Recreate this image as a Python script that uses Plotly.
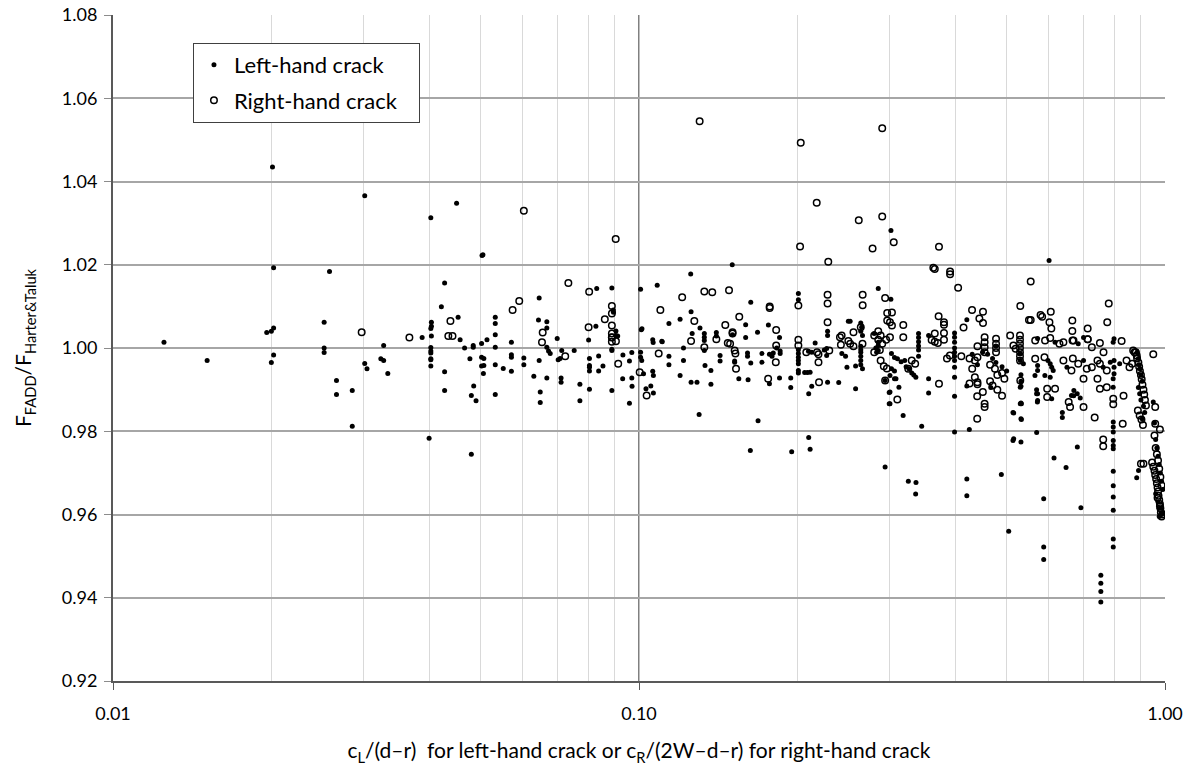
import plotly.graph_objects as go

# ---------------- data: left-hand crack (filled markers) ----------------
left_x = [
    0.0125, 0.0151,
    0.0201, 0.0202, 0.0196, 0.0200, 0.0202, 0.0202, 0.0200,
    0.0258, 0.0252, 0.0252, 0.0252,
    0.0266, 0.0266, 0.0285, 0.0285,
    0.0301, 0.0301, 0.0304,
    0.0327, 0.0323, 0.0327, 0.0333,
    0.0387,
    0.0402, 0.0403, 0.0403, 0.0402, 0.0403, 0.0402, 0.0402, 0.0402, 0.0402, 0.0402, 0.0402, 0.0399,
    0.0421, 0.0427, 0.0427, 0.0427,
    0.0450, 0.0453, 0.0457,
    0.0466, 0.0484, 0.0484, 0.0502, 0.0514,
    0.0503, 0.0505,
    0.0477, 0.0502, 0.0502, 0.0506, 0.0485, 0.0480, 0.0490, 0.0480,
    0.0533, 0.0533, 0.0533, 0.0533, 0.0533, 0.0533,
    0.0507, 0.0507,
    0.0552, 0.0572, 0.0572, 0.0572, 0.0572,
    0.0604, 0.0604, 0.0631,
    0.0646, 0.0646, 0.0644, 0.0668, 0.0668, 0.0668, 0.0673, 0.0678, 0.0649, 0.0649, 0.0668,
    0.0699, 0.0713, 0.0708, 0.0702, 0.0753, 0.0711, 0.0711, 0.0772, 0.0772,
    0.0831, 0.0888, 0.0828, 0.0802,
    0.0805, 0.0805, 0.0805, 0.0805, 0.0805, 0.0838, 0.0854, 0.0838,
    0.0888, 0.0888, 0.0888,
    0.0894, 0.0894, 0.0904, 0.0911, 0.0904,
    0.0932, 0.0959, 0.0969,
    0.0931, 0.0969, 0.0970, 0.0959,
    0.1007, 0.1083, 0.1007, 0.1007, 0.1012, 0.1010, 0.1013,
    0.1020, 0.1062, 0.1065, 0.1053, 0.1031, 0.1065,
    0.1062, 0.1105, 0.1064, 0.1107,
    0.1140, 0.1197, 0.1140, 0.1140, 0.1197, 0.1215, 0.1215,
    0.1254, 0.1504, 0.1256, 0.1631,
    0.1306, 0.1262,
    0.1331, 0.1331, 0.1331, 0.1331, 0.1335,
    0.1403, 0.1403, 0.1506,
    0.1595, 0.1595, 0.1680, 0.1762, 0.1850, 0.2162, 0.2283, 0.2283,
    0.2009, 0.2009,
    0.1256, 0.1289, 0.1301,
    0.1370, 0.1370, 0.1426, 0.1426,
    0.1520, 0.1520, 0.1548,
    0.1608, 0.1608, 0.1612, 0.1631, 0.1628, 0.1684,
    0.1713, 0.1713, 0.1770, 0.1770, 0.1790, 0.1800,
    0.1855, 0.1855, 0.1850, 0.1827,
    0.1943, 0.1943, 0.1951,
    0.2009, 0.2009, 0.2009, 0.2009, 0.2009, 0.2009, 0.2009,
    0.2102, 0.2102, 0.2115,
    0.2065, 0.2090, 0.2115, 0.2130,
    0.2100, 0.2130,
    0.2274, 0.2274, 0.2283, 0.2250,
    0.2397, 0.2485, 0.2581, 0.2581,
    0.2500, 0.2520,
    0.2430, 0.2470,
    0.2640, 0.2650, 0.2640, 0.2660,
    0.2640, 0.2640, 0.2640, 0.2640, 0.2640, 0.2640, 0.2660,
    0.2850, 0.2850, 0.2850, 0.2850,
    0.3013, 0.3012,
    0.2800, 0.2820, 0.2830,
    0.302, 0.306, 0.310, 0.315, 0.320,
    0.302, 0.306, 0.300, 0.306, 0.308, 0.312, 0.300, 0.300,
    0.3178, 0.3447,
    0.322, 0.326, 0.330, 0.333, 0.336,
    0.340, 0.340, 0.340, 0.340, 0.340, 0.340,
    0.3553, 0.3553, 0.3553,
    0.2937, 0.2990, 0.2990, 0.2937,
    0.3251, 0.3362, 0.3357,
    0.398, 0.398, 0.398, 0.398, 0.398, 0.398, 0.398, 0.398, 0.398, 0.398, 0.398,
    0.420, 0.420, 0.420, 0.4246, 0.420,
    0.4664, 0.4885, 0.5045,
    0.514, 0.514, 0.5323, 0.5323, 0.5323, 0.5333, 0.5156, 0.5333, 0.5156,
    0.5323, 0.5323, 0.5323,
    0.570, 0.570, 0.572, 0.5702,
    0.588, 0.588, 0.588,
    0.602, 0.6152, 0.638, 0.638, 0.6485, 0.6705, 0.6813, 0.692,
    0.7551, 0.7551, 0.7551, 0.7551,
    0.7973, 0.7973, 0.7973, 0.7973, 0.7973, 0.7973, 0.7973, 0.7973, 0.7973, 0.7973, 0.7973, 0.7973,
    0.800, 0.797,
    0.8835, 0.8907,
    0.5725, 0.618, 0.684, 0.700,
    0.5307, 0.5307, 0.538, 0.5725, 0.5725, 0.599, 0.605, 0.609, 0.613, 0.651, 0.700, 0.763, 0.787,
    0.800, 0.800, 0.800, 0.820,
    0.5307, 0.5307, 0.566, 0.5725, 0.5725, 0.591, 0.605, 0.609, 0.664, 0.671, 0.681, 0.690, 0.797, 0.797,
    0.450, 0.460, 0.470, 0.477, 0.477, 0.490, 0.500, 0.440, 0.430,
    0.885, 0.890, 0.893, 0.897, 0.900, 0.905, 0.890, 0.895, 0.900, 0.910, 0.915, 0.905,
    0.950, 0.955, 0.960, 0.965, 0.970, 0.975, 0.980, 0.985, 0.990, 0.960, 0.970, 0.980, 0.990, 0.975, 0.985,
]
left_y = [
    1.0014, 0.9970,
    1.0435, 1.0193, 1.0037, 1.0040, 1.0048, 0.9983, 0.9965,
    1.0184, 1.0062, 1.0000, 0.9989,
    0.9922, 0.9888, 0.9898, 0.9812,
    1.0366, 0.9963, 0.9950,
    1.0006, 0.9974, 0.9970, 0.9939,
    1.0025,
    1.0313, 1.0062, 1.0052, 1.0047, 1.0029, 1.0001, 0.9993, 0.9988, 0.9972, 0.9974, 0.9957, 0.9783,
    1.0099, 1.0156, 0.9943, 0.9898,
    1.0348, 1.0074, 1.0020,
    1.0000, 1.0002, 1.0006, 1.0011, 1.0020,
    1.0222, 1.0224,
    0.9974, 0.9978, 0.9957, 0.9939, 0.9909, 0.9886, 0.9873, 0.9745,
    1.0032, 1.0059, 1.0074, 1.0002, 0.9960, 0.9888,
    0.9975, 0.9958,
    0.9951, 1.0014, 0.9984, 0.9978, 0.9944,
    0.9976, 0.9960, 0.9932,
    1.0120, 0.9970, 1.0067, 1.0063, 1.0048, 1.0002, 0.9993, 0.9987, 0.9894, 0.9869, 0.9928,
    1.0023, 0.9994, 0.9975, 0.9972, 0.9994, 0.9928, 0.9918, 0.9913, 0.9873,
    1.0143, 1.0144, 1.0052, 1.0019,
    0.9975, 0.9958, 0.9954, 0.9945, 0.9901, 0.9981, 0.9957, 0.9945,
    0.9997, 0.9994, 0.9898,
    1.0091, 1.0086, 1.0041, 1.0029, 1.0030,
    0.9983, 0.9969, 0.9989,
    0.9926, 0.9928, 0.9908, 0.9867,
    1.0141, 1.0151, 0.9990, 0.9978, 0.9970, 1.0044, 1.0046,
    0.9938, 0.9944, 0.9934, 0.9909, 0.9902, 0.9892,
    1.0020, 1.0016, 1.0013, 1.0015,
    1.0059, 1.0069, 0.9980, 0.9960, 0.9934, 1.0000, 0.9970,
    1.0178, 1.0200, 1.0087, 1.0110,
    1.0048, 1.0035,
    1.0035, 1.0026, 1.0018, 0.9994, 0.9958,
    1.0037, 1.0029, 1.0032,
    1.0056, 1.0025, 1.0038, 1.0055, 1.0025, 1.0012, 1.0040, 1.0030,
    1.0131, 1.0116,
    0.9918, 0.9918, 0.9840,
    0.9946, 0.9913, 0.9982, 0.9969,
    0.9969, 0.9966, 0.9926,
    0.9988, 0.9980, 0.9924, 0.9964, 0.9754, 0.9825,
    0.9987, 0.9966, 0.9914, 0.9985, 0.9980, 0.9988,
    0.9993, 0.9987, 0.9928, 1.0000,
    0.9928, 0.9905, 0.9751,
    0.9996, 0.9987, 0.9978, 0.9970, 0.9946, 0.9940, 0.9962,
    0.9890, 0.9785, 0.9757,
    0.9941, 0.9941, 0.9942, 0.9908,
    0.9992, 0.9990,
    0.9999, 0.9982, 0.9918, 0.9995,
    0.9917, 0.9954, 0.9957, 0.9902,
    1.0064, 1.0064,
    0.9987, 0.9980,
    1.0060, 1.0050, 1.0040, 1.0030,
    1.0004, 0.9996, 0.9990, 0.9980, 0.9970, 0.9960, 0.9950,
    1.0143, 1.0014, 1.0006, 0.9994,
    1.0282, 1.0117,
    1.0035, 1.0000, 0.9990,
    0.9987, 0.9977, 0.9974, 0.9967, 0.9970,
    0.9950, 0.9945, 0.9934, 0.9926, 0.9926, 0.9906, 0.9894, 0.9866,
    0.9838, 0.9812,
    0.9955, 0.9950, 0.9940, 0.9935, 0.9930,
    1.0035, 1.0025, 1.0015, 1.0005, 0.9995, 0.9980,
    1.0030, 0.9926, 0.9892,
    0.9922, 0.9893, 0.9866, 0.9714,
    0.9680, 0.9677, 0.9649,
    1.0036, 1.0026, 1.0014, 1.0000, 0.9990, 0.9980, 0.9970, 0.9954, 0.9930, 0.9884, 0.9798,
    1.0068, 0.9685, 0.9645, 0.9804, 0.9909,
    0.9905, 0.9696, 0.9560,
    0.9845, 0.9778, 0.9774, 0.9830, 0.9868, 0.9866, 0.9844, 0.9828, 0.9782,
    0.9908, 0.9920, 0.9936,
    0.9900, 0.9890, 0.9870, 0.9797,
    0.9638, 0.9522, 0.9492,
    1.0210, 0.9736, 0.9845, 0.9833, 0.9713, 0.9885, 0.9762, 0.9616,
    0.9454, 0.9435, 0.9415, 0.9390,
    0.9822, 0.9810, 0.9798, 0.9778, 0.9766, 0.9758, 0.9704, 0.9669, 0.9642, 0.9610, 0.9541, 0.9522,
    1.0022, 1.0014,
    0.9688, 0.9706,
    1.0023, 1.0014, 1.0010, 1.0025,
    0.9987, 0.9970, 0.9962, 0.9958, 0.9946, 0.9970, 0.9962, 0.9954, 0.9946, 0.9954, 0.9970, 0.9954, 0.9966,
    0.9970, 0.9954, 0.9938, 0.9962,
    0.9906, 0.9866, 0.9934, 0.9890, 0.9874, 0.9934, 0.9930, 0.9878, 0.9886, 0.9898, 0.9890, 0.9880, 0.9926, 0.9906,
    0.9990, 0.9985, 0.9975, 1.0005, 0.9965, 0.9955, 0.9945, 0.9960, 0.9985,
    0.9990, 0.9975, 0.9960, 0.9950, 0.9935, 0.9920, 0.9905, 0.9890, 0.9875, 0.9860, 0.9845, 0.9830,
    0.9870, 0.9820, 0.9780, 0.9760, 0.9740, 0.9720, 0.9700, 0.9680, 0.9660, 0.9650, 0.9630, 0.9615, 0.9605, 0.9595, 0.9600,
]

# ---------------- data: right-hand crack (open markers) ----------------
right_x = [
    0.0297, 0.0366, 0.0438, 0.0434, 0.0442,
    0.0604, 0.0592, 0.0575, 0.0656, 0.0654, 0.0724,
    0.0734, 0.0804, 0.0903, 0.0861, 0.0802,
    0.0888, 0.0888, 0.0888, 0.0888, 0.0904, 0.0888, 0.0888, 0.0888,
    0.0913, 0.1003, 0.1034, 0.1090, 0.1098, 0.1208,
    0.1304, 0.2030, 0.2177, 0.2024, 0.2290,
    0.1331, 0.1378, 0.1483, 0.1772, 0.1772, 0.2009, 0.2283, 0.2283, 0.2283,
    0.1551, 0.1459, 0.1274, 0.1256, 0.1331, 0.1403, 0.1506, 0.1506, 0.1823, 0.2009, 0.1475, 0.1490,
    0.1520, 0.1525, 0.1529, 0.1760, 0.1820, 0.1823,
    0.2009, 0.2194, 0.2194, 0.2199, 0.2080, 0.2300, 0.2180,
    0.2617, 0.2900, 0.2900, 0.3050, 0.2780,
    0.2662, 0.2662,
    0.2557, 0.2428, 0.2410, 0.2420, 0.2500, 0.2520, 0.2557, 0.2640, 0.2660,
    0.2800, 0.2800,
    0.2937, 0.2964, 0.2964, 0.3026, 0.3026, 0.3000,
    0.2850, 0.2880, 0.2850, 0.2900, 0.2950, 0.3000, 0.2870,
    0.2880, 0.2920, 0.2960, 0.2937, 0.3098,
    0.3180, 0.3180,
    0.3300, 0.3350, 0.3250,
    0.3627, 0.3650, 0.3718, 0.3903, 0.3903, 0.4043,
    0.3712, 0.3800, 0.3800, 0.3650, 0.3800, 0.3600, 0.3650, 0.3700, 0.3800,
    0.3900, 0.3850, 0.3718,
    0.4140, 0.4297, 0.4508, 0.4437, 0.4508,
    0.4100, 0.4250, 0.4350, 0.4400,
    0.4300, 0.4350, 0.4250,
    0.4400, 0.4400, 0.4395, 0.4505, 0.4540, 0.4540, 0.4395,
    0.4400, 0.454, 0.454, 0.454, 0.454,
    0.4773, 0.4773, 0.4773, 0.4773,
    0.4650, 0.4750, 0.4800, 0.4900, 0.4950, 0.4650, 0.4700, 0.4800, 0.4900,
    0.5077, 0.5150, 0.5200, 0.5307,
    0.530, 0.530, 0.530, 0.530, 0.530, 0.530, 0.530,
    0.5555, 0.5513, 0.5555,
    0.5800, 0.5840, 0.6065, 0.6030, 0.6080,
    0.6665, 0.6665, 0.7128, 0.6700, 0.7128, 0.7520, 0.8270,
    0.7817, 0.7766,
    0.950, 0.8835, 0.870, 0.875,
    0.735, 0.763, 0.763,
    0.7973, 0.7973, 0.831, 0.834,
    0.900, 0.910,
    0.958, 0.958, 0.978,
    0.5665, 0.5915, 0.605, 0.630, 0.641, 0.667, 0.713, 0.726, 0.764,
    0.5665, 0.590, 0.641, 0.664, 0.668, 0.684, 0.710, 0.726, 0.744, 0.752, 0.775, 0.845, 0.856, 0.866,
    0.5307, 0.5970, 0.5970, 0.618, 0.656, 0.660, 0.700, 0.700, 0.744, 0.752, 0.775,
    0.880, 0.885, 0.890, 0.893, 0.896, 0.900, 0.903, 0.906, 0.910, 0.913, 0.916, 0.920, 0.888, 0.895, 0.902, 0.908,
    0.945, 0.950, 0.955, 0.958, 0.962, 0.965, 0.968, 0.970, 0.972, 0.975, 0.978, 0.980, 0.982, 0.985,
    0.960, 0.965, 0.970, 0.975, 0.980, 0.985, 0.968, 0.978, 0.988, 0.955,
]
right_y = [
    1.0038, 1.0025, 1.0065, 1.0029, 1.0029,
    1.0330, 1.0113, 1.0091, 1.0037, 1.0014, 0.9980,
    1.0156, 1.0135, 1.0262, 1.0069, 1.0050,
    1.0101, 1.0083, 1.0054, 1.0026, 1.0016, 1.0035, 1.0025, 1.0015,
    0.9962, 0.9942, 0.9886, 0.9987, 1.0091, 1.0122,
    1.0545, 1.0493, 1.0349, 1.0244, 1.0207,
    1.0136, 1.0134, 1.0139, 1.0100, 1.0096, 1.0102, 1.0128, 1.0107, 1.0062,
    1.0075, 1.0055, 1.0065, 1.0017, 1.0002, 1.0021, 1.0038, 1.0035, 1.0043, 1.0020, 1.0012, 1.0010,
    0.9994, 0.9987, 0.9950, 0.9926, 0.9966, 1.0006,
    1.0006, 0.9985, 0.9966, 0.9918, 0.9990, 0.9994, 0.9990,
    1.0307, 1.0316, 1.0528, 1.0254, 1.0239,
    1.0128, 1.0103,
    1.0038, 1.0030, 1.0026, 1.0008, 1.0017, 1.0010, 1.0004, 1.0050, 1.0010,
    1.0030, 0.9990,
    1.0120, 1.0084, 1.0066, 1.0085, 1.0054, 1.0062,
    1.0040, 1.0030, 1.0020, 1.0010, 1.0020, 1.0026, 0.9995,
    0.9970, 0.9956, 0.9951, 0.9922, 0.9876,
    1.0055, 1.0026,
    0.9970, 0.9962, 0.9950,
    1.0193, 1.0190, 1.0243, 1.0184, 1.0177, 1.0145,
    1.0076, 1.0062, 1.0056, 1.0035, 1.0036, 1.0019, 1.0015, 1.0012, 1.0020,
    0.9982, 0.9975, 0.9914,
    1.0049, 1.0091, 1.0087, 1.0071, 1.0060,
    0.9980, 0.9975, 0.9970, 0.9978,
    0.9950, 0.9930, 0.9915,
    0.9918, 0.9913, 0.9884, 0.9894, 0.9866, 0.9858, 0.9830,
    1.0004, 1.0026, 1.0014, 1.0002, 0.9990,
    1.0022, 1.0010, 1.0000, 0.9990,
    0.9960, 0.9950, 0.9935, 0.9940, 0.9926, 0.9920, 0.9910, 0.9900, 0.9885,
    1.0030, 1.0006, 0.9998, 1.0101,
    1.0030, 1.0020, 1.0010, 1.0000, 0.9990, 0.9980, 0.9970,
    1.0160, 1.0067, 1.0067,
    1.0079, 1.0075, 1.0087, 1.0062, 1.0047,
    1.0066, 1.0041, 1.0047, 1.0018, 1.0021, 1.0012, 1.0017,
    1.0107, 1.0062,
    0.9985, 0.9982, 0.9994, 0.9990,
    0.9833, 0.9780, 0.9764,
    0.9878, 0.9865, 0.9818, 0.9885,
    0.9722, 0.9722,
    0.9858, 0.9818, 0.9804,
    1.0018, 1.0018, 1.0024, 1.0010, 1.0014, 1.0018, 1.0021, 1.0002, 0.9990,
    0.9974, 0.9978, 0.9970, 0.9946, 0.9975, 0.9962, 0.9950, 0.9954, 0.9970, 0.9962, 0.9946, 0.9970, 0.9954, 0.9962,
    0.9922, 0.9902, 0.9882, 0.9902, 0.9870, 0.9858, 0.9926, 0.9858, 0.9926, 0.9902, 0.9906,
    0.9990, 0.9975, 0.9965, 0.9955, 0.9945, 0.9935, 0.9925, 0.9912, 0.9900, 0.9888, 0.9875, 0.9862, 0.9850, 0.9838, 0.9828, 0.9815,
    0.9725, 0.9715, 0.9705, 0.9695, 0.9685, 0.9675, 0.9665, 0.9655, 0.9645, 0.9635, 0.9625, 0.9615, 0.9605, 0.9595,
    0.9760, 0.9745, 0.9730, 0.9710, 0.9690, 0.9670, 0.9640, 0.9620, 0.9600, 0.9790,
]

legend_names = ["Left-hand crack", "Right-hand crack"]
y_ticks = [0.92, 0.94, 0.96, 0.98, 1.00, 1.02, 1.04, 1.06, 1.08]
x_ticks = [0.01, 0.1, 1.0]
x_tick_text = ["0.01", "0.10", "1.00"]
x_minor = [m * 10.0 ** e for e in (-2, -1) for m in range(2, 10)]

FONT = "Lato, Liberation Sans, sans-serif"

fig = go.Figure()
fig.add_trace(go.Scatter(
    x=left_x, y=left_y, mode="markers", name=legend_names[0] + "\u00a0\u00a0\u00a0", legendgroup="L",
    marker=dict(symbol="circle", size=5, color="black"),
))
fig.add_trace(go.Scatter(
    x=right_x, y=right_y, mode="markers", name=legend_names[1] + "\u00a0\u00a0\u00a0", legendgroup="R",
    marker=dict(symbol="circle-open", size=6.5, color="black", line=dict(width=1.5)),
))

# dark major vertical line at 0.10
fig.add_shape(type="line", xref="x", yref="paper", x0=0.1, x1=0.1, y0=0, y1=1,
              line=dict(color="black", width=1), layer="below")

fig.update_layout(
    width=1196, height=773,
    margin=dict(l=113, r=31, t=15, b=92),
    paper_bgcolor="white", plot_bgcolor="white",
    font=dict(family=FONT, size=18, color="black"),
    showlegend=True,
    legend=dict(
        x=0.076, y=0.958, xanchor="left", yanchor="top",
        bgcolor="white", bordercolor="#404040", borderwidth=1,
        font=dict(family=FONT, size=22),
        itemsizing="trace", tracegroupgap=4, itemwidth=30,
    ),
)
fig.update_xaxes(
    type="log", range=[-2, 0],
    tickmode="array", tickvals=x_ticks, ticktext=x_tick_text,
    showgrid=True, gridcolor="#bfbfbf", gridwidth=1,
    minor=dict(tickmode="array", tickvals=x_minor, showgrid=True, gridcolor="#d9d9d9", gridwidth=1, ticks=""),
    showline=True, linecolor="#595959", linewidth=2,
    ticks="outside", ticklen=7, tickcolor="#595959",
    tickfont=dict(family=FONT, size=18),
    ticklabelstandoff=8, ticklabeloverflow="allow",
    zeroline=False,
    title=dict(text="c<sub>L</sub>/(d\u2013r)\u00a0\u00a0for left-hand crack or c<sub>R</sub>/(2W\u2013d\u2013r) for right-hand crack",
               font=dict(family=FONT, size=21), standoff=21),
    automargin=False,
)
fig.update_yaxes(
    range=[0.92, 1.08],
    tickmode="array", tickvals=y_ticks, tickformat=".2f",
    showgrid=True, gridcolor="#a6a6a6", gridwidth=1.6,
    showline=True, linecolor="#595959", linewidth=2,
    ticks="outside", ticklen=7, tickcolor="#8c8c8c",
    tickfont=dict(family=FONT, size=18),
    ticklabelstandoff=3, ticklabeloverflow="allow",
    zeroline=False,
    title=dict(text="F<sub>FADD</sub>/F<sub>Harter&Taluk</sub>", font=dict(family=FONT, size=21), standoff=24),
    automargin=False,
)

# remove the browser's default 8px page margin so the figure fills the window exactly
fig.write_html(
    "out.html",
    config={"displayModeBar": False, "staticPlot": False},
    post_script="document.body.style.margin='0';document.body.style.overflow='hidden';",
)
